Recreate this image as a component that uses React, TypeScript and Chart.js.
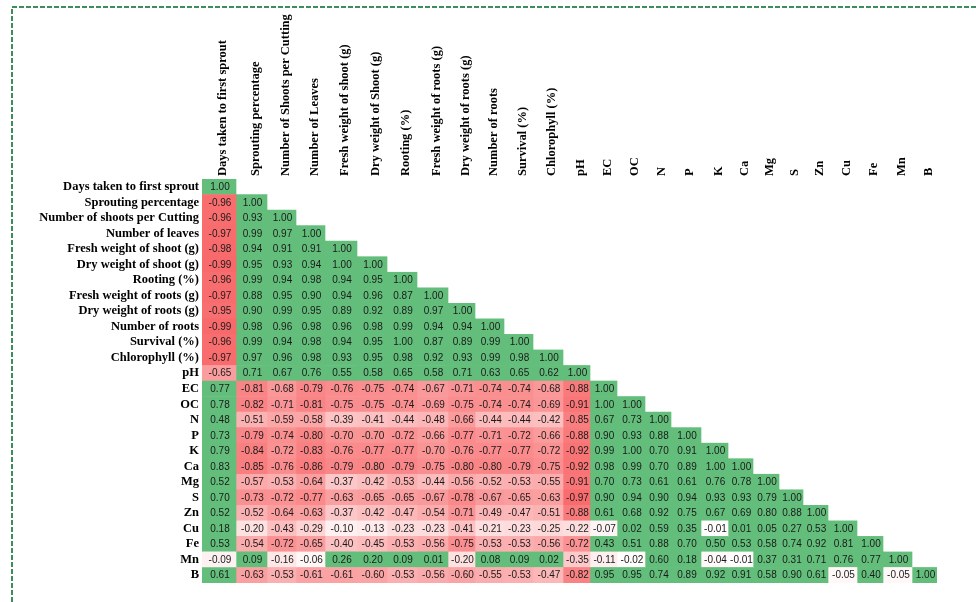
import { useEffect, useRef } from "react";
import { Chart, registerables } from "chart.js";

Chart.register(...registerables);

// Variable names as printed across the top of the matrix
const COLUMN_LABELS = [
  "Days taken to first sprout",
  "Sprouting percentage",
  "Number of Shoots per Cutting",
  "Number of Leaves",
  "Fresh weight of shoot (g)",
  "Dry weight of Shoot (g)",
  "Rooting (%)",
  "Fresh weight of roots (g)",
  "Dry weight of roots (g)",
  "Number of roots",
  "Survival (%)",
  "Chlorophyll (%)",
  "pH",
  "EC",
  "OC",
  "N",
  "P",
  "K",
  "Ca",
  "Mg",
  "S",
  "Zn",
  "Cu",
  "Fe",
  "Mn",
  "B",
];

// Variable names as printed down the left side
const ROW_LABELS = [
  "Days taken to first sprout",
  "Sprouting percentage",
  "Number of shoots per Cutting",
  "Number of leaves",
  "Fresh weight of shoot (g)",
  "Dry weight of shoot (g)",
  "Rooting (%)",
  "Fresh weight of roots (g)",
  "Dry weight of roots (g)",
  "Number of roots",
  "Survival (%)",
  "Chlorophyll (%)",
  "pH",
  "EC",
  "OC",
  "N",
  "P",
  "K",
  "Ca",
  "Mg",
  "S",
  "Zn",
  "Cu",
  "Fe",
  "Mn",
  "B",
];

// Lower-triangle correlation coefficients, one array per row
const R_DAYS = [1.0];
const R_SPROUTING = [-0.96, 1.0];
const R_SHOOTS = [-0.96, 0.93, 1.0];
const R_LEAVES = [-0.97, 0.99, 0.97, 1.0];
const R_FW_SHOOT = [-0.98, 0.94, 0.91, 0.91, 1.0];
const R_DW_SHOOT = [-0.99, 0.95, 0.93, 0.94, 1.0, 1.0];
const R_ROOTING = [-0.96, 0.99, 0.94, 0.98, 0.94, 0.95, 1.0];
const R_FW_ROOTS = [-0.97, 0.88, 0.95, 0.9, 0.94, 0.96, 0.87, 1.0];
const R_DW_ROOTS = [-0.95, 0.9, 0.99, 0.95, 0.89, 0.92, 0.89, 0.97, 1.0];
const R_N_ROOTS = [-0.99, 0.98, 0.96, 0.98, 0.96, 0.98, 0.99, 0.94, 0.94, 1.0];
const R_SURVIVAL = [-0.96, 0.99, 0.94, 0.98, 0.94, 0.95, 1.0, 0.87, 0.89, 0.99, 1.0];
const R_CHLOROPHYLL = [-0.97, 0.97, 0.96, 0.98, 0.93, 0.95, 0.98, 0.92, 0.93, 0.99, 0.98, 1.0];
const R_PH = [-0.65, 0.71, 0.67, 0.76, 0.55, 0.58, 0.65, 0.58, 0.71, 0.63, 0.65, 0.62, 1.0];
const R_EC = [0.77, -0.81, -0.68, -0.79, -0.76, -0.75, -0.74, -0.67, -0.71, -0.74, -0.74, -0.68, -0.88, 1.0];
const R_OC = [0.78, -0.82, -0.71, -0.81, -0.75, -0.75, -0.74, -0.69, -0.75, -0.74, -0.74, -0.69, -0.91, 1.0, 1.0];
const R_N = [0.48, -0.51, -0.59, -0.58, -0.39, -0.41, -0.44, -0.48, -0.66, -0.44, -0.44, -0.42, -0.85, 0.67, 0.73, 1.0];
const R_P = [0.73, -0.79, -0.74, -0.8, -0.7, -0.7, -0.72, -0.66, -0.77, -0.71, -0.72, -0.66, -0.88, 0.9, 0.93, 0.88, 1.0];
const R_K = [0.79, -0.84, -0.72, -0.83, -0.76, -0.77, -0.77, -0.7, -0.76, -0.77, -0.77, -0.72, -0.92, 0.99, 1.0, 0.7, 0.91, 1.0];
const R_CA = [0.83, -0.85, -0.76, -0.86, -0.79, -0.8, -0.79, -0.75, -0.8, -0.8, -0.79, -0.75, -0.92, 0.98, 0.99, 0.7, 0.89, 1.0, 1.0];
const R_MG = [0.52, -0.57, -0.53, -0.64, -0.37, -0.42, -0.53, -0.44, -0.56, -0.52, -0.53, -0.55, -0.91, 0.7, 0.73, 0.61, 0.61, 0.76, 0.78, 1.0];
const R_S = [0.7, -0.73, -0.72, -0.77, -0.63, -0.65, -0.65, -0.67, -0.78, -0.67, -0.65, -0.63, -0.97, 0.9, 0.94, 0.9, 0.94, 0.93, 0.93, 0.79, 1.0];
const R_ZN = [0.52, -0.52, -0.64, -0.63, -0.37, -0.42, -0.47, -0.54, -0.71, -0.49, -0.47, -0.51, -0.88, 0.61, 0.68, 0.92, 0.75, 0.67, 0.69, 0.8, 0.88, 1.0];
const R_CU = [0.18, -0.2, -0.43, -0.29, -0.1, -0.13, -0.23, -0.23, -0.41, -0.21, -0.23, -0.25, -0.22, -0.07, 0.02, 0.59, 0.35, -0.01, 0.01, 0.05, 0.27, 0.53, 1.0];
const R_FE = [0.53, -0.54, -0.72, -0.65, -0.4, -0.45, -0.53, -0.56, -0.75, -0.53, -0.53, -0.56, -0.72, 0.43, 0.51, 0.88, 0.7, 0.5, 0.53, 0.58, 0.74, 0.92, 0.81, 1.0];
const R_MN = [-0.09, 0.09, -0.16, -0.06, 0.26, 0.2, 0.09, 0.01, -0.2, 0.08, 0.09, 0.02, -0.35, -0.11, -0.02, 0.6, 0.18, -0.04, -0.01, 0.37, 0.31, 0.71, 0.76, 0.77, 1.0];
const R_B = [0.61, -0.63, -0.53, -0.61, -0.61, -0.6, -0.53, -0.56, -0.6, -0.55, -0.53, -0.47, -0.82, 0.95, 0.95, 0.74, 0.89, 0.92, 0.91, 0.58, 0.9, 0.61, -0.05, 0.4, -0.05, 1.0];

const CORRELATION_ROWS = [
  R_DAYS, R_SPROUTING, R_SHOOTS, R_LEAVES, R_FW_SHOOT, R_DW_SHOOT, R_ROOTING,
  R_FW_ROOTS, R_DW_ROOTS, R_N_ROOTS, R_SURVIVAL, R_CHLOROPHYLL, R_PH, R_EC,
  R_OC, R_N, R_P, R_K, R_CA, R_MG, R_S, R_ZN, R_CU, R_FE, R_MN, R_B,
];

// Sheet-style column widths (pixels along the x scale)
const COL_WIDTHS = [34, 31, 29, 29, 32, 30, 30, 31, 27, 29, 29, 30, 27, 27, 28, 26, 30, 27, 25, 26, 24, 25, 29, 26, 29, 25];

const GREEN = "#63be7b";
const RED = [248, 105, 107];
const SERIF = "'Liberation Serif', 'Times New Roman', serif";
const NARROW = "'Liberation Sans Narrow', 'Arial Narrow', 'Liberation Sans', Arial, sans-serif";

const COL_EDGES = COL_WIDTHS.reduce<number[]>((acc, w) => {
  acc.push(acc[acc.length - 1] + w);
  return acc;
}, [0]);
const COL_CENTERS = COL_WIDTHS.map((w, j) => COL_EDGES[j] + w / 2);
const TOTAL_WIDTH = COL_EDGES[COL_EDGES.length - 1];

const MOST_NEGATIVE = Math.min(...CORRELATION_ROWS.flat());

// Positive coefficients get a flat green fill; negative ones fade from white to red
function cellColor(v: number): string {
  if (v >= 0) return GREEN;
  const t = Math.min(1, v / MOST_NEGATIVE);
  const mix = (c: number) => Math.round(255 + (c - 255) * t);
  return `rgb(${mix(RED[0])}, ${mix(RED[1])}, ${mix(RED[2])})`;
}

const frameBorder = {
  id: "frameBorder",
  beforeDraw(chart: Chart) {
    const ctx = chart.ctx;
    ctx.save();
    ctx.strokeStyle = "#3f8c5d";
    ctx.lineWidth = 2;
    ctx.setLineDash([5, 2]);
    ctx.beginPath();
    ctx.moveTo(12, chart.height);
    ctx.lineTo(12, 7);
    ctx.lineTo(chart.width, 7);
    ctx.stroke();
    ctx.restore();
  },
};

const cellValues = {
  id: "cellValues",
  afterDatasetsDraw(chart: Chart) {
    const ctx = chart.ctx;
    ctx.save();
    ctx.font = `10px ${NARROW}`;
    ctx.fillStyle = "#1a1a1a";
    ctx.textAlign = "center";
    ctx.textBaseline = "middle";
    chart.data.datasets.forEach((ds: any, di: number) => {
      const meta = chart.getDatasetMeta(di);
      meta.data.forEach((el: any, k: number) => {
        const raw = ds.data[k];
        const { x, y, base } = el.getProps(["x", "y", "base"], true);
        ctx.fillText(raw.v.toFixed(2), (x + base) / 2 + 1, y + 0.5);
      });
    });
    ctx.restore();
  },
};

export default function App() {
  const canvasRef = useRef<HTMLCanvasElement | null>(null);

  useEffect(() => {
    if (!canvasRef.current) return;

    const datasets = COLUMN_LABELS.map((_, j) => ({
      label: COLUMN_LABELS[j],
      data: ROW_LABELS.flatMap((rowLabel, i) =>
        i >= j
          ? [{ x: [COL_EDGES[j], COL_EDGES[j + 1]], y: rowLabel, v: CORRELATION_ROWS[i][j] }]
          : []
      ),
      backgroundColor: (c: any) => cellColor(c.raw ? c.raw.v : 0),
      borderWidth: 0,
      barPercentage: 1,
      categoryPercentage: 1,
      grouped: false,
    }));

    const chart = new Chart(canvasRef.current, {
      type: "bar",
      data: { labels: ROW_LABELS, datasets: datasets as any },
      plugins: [frameBorder, cellValues],
      options: {
        indexAxis: "y",
        animation: false,
        responsive: false,
        maintainAspectRatio: false,
        layout: { padding: { left: 0, top: 0, right: 39, bottom: 19 } },
        plugins: {
          legend: { display: false },
          tooltip: { enabled: false },
        },
        scales: {
          x: {
            type: "linear",
            position: "top",
            min: 0,
            max: TOTAL_WIDTH,
            grid: { display: false, drawTicks: false },
            border: { display: false },
            afterBuildTicks: (s: any) => {
              s.ticks = COL_CENTERS.map((v) => ({ value: v }));
            },
            afterFit: (s: any) => {
              s.height = 179;
              s.paddingLeft = 0;
              s.paddingRight = 0;
            },
            ticks: {
              autoSkip: false,
              minRotation: 90,
              maxRotation: 90,
              padding: 3,
              labelOffset: 19,
              color: "#000",
              font: { family: SERIF, size: 12.5, weight: "bold" },
              callback: (_v: any, i: number) => COLUMN_LABELS[i],
            },
          },
          y: {
            type: "category",
            offset: true,
            grid: { display: false, drawTicks: false },
            border: { display: false },
            afterFit: (s: any) => {
              s.width = 202;
              s.paddingTop = 0;
              s.paddingBottom = 0;
            },
            ticks: {
              autoSkip: false,
              padding: 3,
              color: "#000",
              font: { family: SERIF, size: 12.5, weight: "bold" },
            },
          },
        },
      } as any,
    });

    return () => chart.destroy();
  }, []);

  return (
    <div style={{ position: "fixed", left: 0, top: 0, width: 976, height: 602, background: "#fff" }}>
      <canvas ref={canvasRef} width={976} height={602} />
    </div>
  );
}
